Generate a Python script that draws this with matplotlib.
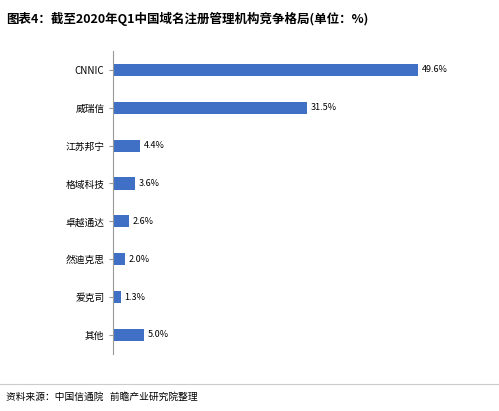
import matplotlib
matplotlib.use("Agg")
import matplotlib.pyplot as plt

plt.rcParams['font.family'] = ['Noto Sans CJK SC', 'DejaVu Sans']

categories = ["CNNIC", "威瑞信", "江苏邦宁", "格域科技", "卓越通达", "然迪克思", "爱克司", "其他"]
values = [49.6, 31.5, 4.4, 3.6, 2.6, 2.0, 1.3, 5.0]

fig = plt.figure(figsize=(4.99, 4.11), dpi=100)
ax = fig.add_axes([0.226, 0.139, 0.716, 0.737])
y = list(range(len(categories)))
ax.barh(y, values, height=0.32, color="#3f70c5")
ax.set_ylim(len(categories) - 0.5, -0.5)
ax.set_xlim(0, 58)
ax.set_yticks(y)
ax.set_yticklabels(categories, fontsize=7)
ax.tick_params(axis='y', length=3, color="#999999", pad=3)
ax.set_xticks([])
for s in ["top", "right", "bottom"]:
    ax.spines[s].set_visible(False)
ax.spines["left"].set_color("#999999")
for yi, v in zip(y, values):
    ax.text(v + 0.6, yi, f"{v:.1f}%", va="center", ha="left", fontsize=6.5)

fig.text(0.012, 0.955, "图表4：截至2020年Q1中国域名注册管理机构竞争格局(单位：%)",
         fontsize=9, fontweight="bold", ha="left", va="center")
fig.add_artist(plt.Line2D([0, 1], [0.065, 0.065], color="#cccccc", lw=0.8))
fig.text(0.012, 0.035, "资料来源：中国信通院   前瞻产业研究院整理", fontsize=7, ha="left", va="center")
fig.savefig("out.png", dpi=100)
